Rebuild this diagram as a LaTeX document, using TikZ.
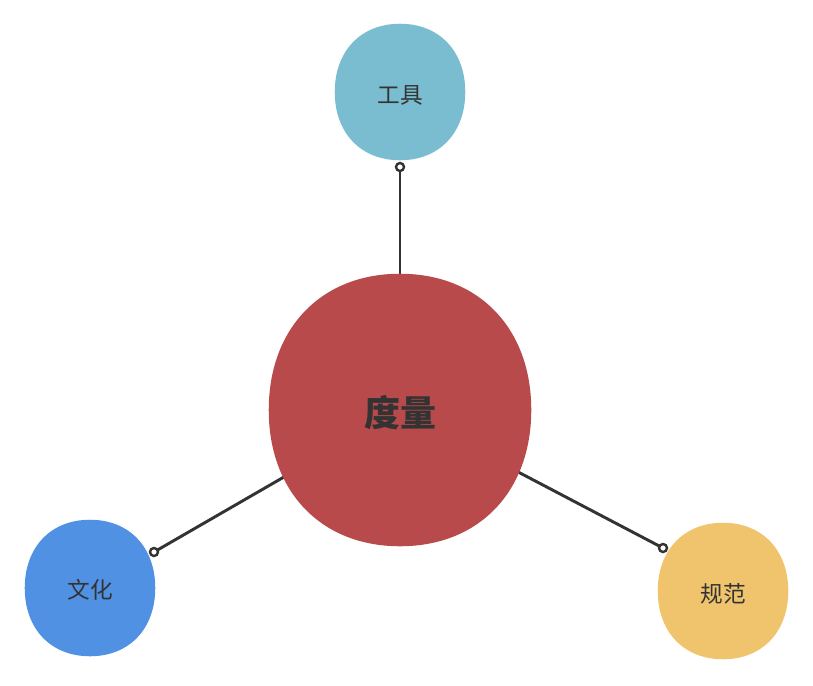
\documentclass[tikz,border=0pt]{standalone}
\usepackage{fontspec}
\newfontfamily\cjk{Noto Sans CJK SC}
\usetikzlibrary{backgrounds,calc}
\definecolor{cred}{HTML}{B94A4B}
\definecolor{cteal}{HTML}{7ABDD0}
\definecolor{cblue}{HTML}{5091E3}
\definecolor{cyellow}{HTML}{F0C46C}
\definecolor{ink}{HTML}{333333}
\newcommand\myblobfill[2]{%
  \fill[#2] (#1.north)
    .. controls ($(#1.north)!0.6!(#1.north east)$) and ($(#1.east)!0.6!(#1.north east)$) .. (#1.east)
    .. controls ($(#1.east)!0.6!(#1.south east)$) and ($(#1.south)!0.6!(#1.south east)$) .. (#1.south)
    .. controls ($(#1.south)!0.6!(#1.south west)$) and ($(#1.west)!0.6!(#1.south west)$) .. (#1.west)
    .. controls ($(#1.west)!0.6!(#1.north west)$) and ($(#1.north)!0.6!(#1.north west)$) .. (#1.north) -- cycle;}
\begin{document}
\begin{tikzpicture}[x=0.75pt,y=-0.75pt,
  bigblob/.style={inner sep=0, minimum width=196.5pt, minimum height=204pt},
  smallblob/.style={inner sep=0, minimum width=97.5pt, minimum height=102pt},
  bigtext/.style={text=ink, font=\cjk\bfseries\fontsize{27}{30}\selectfont},
  smalltext/.style={text=ink, font=\cjk\fontsize{17}{20}\selectfont},
  link/.style={draw=ink, line width=2.2pt},
  endmark/.style={draw=ink, fill=white, line width=1.8pt}]
\useasboundingbox (0,0) rectangle (813,685);
\node[bigblob] (c) at (400,410) {};
\node[bigtext] (ct) at (400,413) {度量};
\node[smallblob] (t) at (400,92) {};
\node[smalltext] (tt) at (400,95) {工具};
\node[smallblob] (l) at (90,588) {};
\node[smalltext] (lt) at (90,590) {文化};
\node[smallblob] (r) at (723,591) {};
\node[smalltext] (rt) at (723,594) {规范};
\coordinate (e1) at (400,167);
\coordinate (e2) at (154,552);
\coordinate (e3) at (663,548);
\begin{pgfonlayer}{background}
\draw[link] (c.center) -- (e1);
\draw[link] (c.center) -- (e2);
\draw[link] (c.center) -- (e3);
\myblobfill{c}{cred}
\myblobfill{t}{cteal}
\myblobfill{l}{cblue}
\myblobfill{r}{cyellow}
\end{pgfonlayer}
\draw[endmark] (e1) circle (4);
\draw[endmark] (e2) circle (4);
\draw[endmark] (e3) circle (4);
\end{tikzpicture}
\end{document}
